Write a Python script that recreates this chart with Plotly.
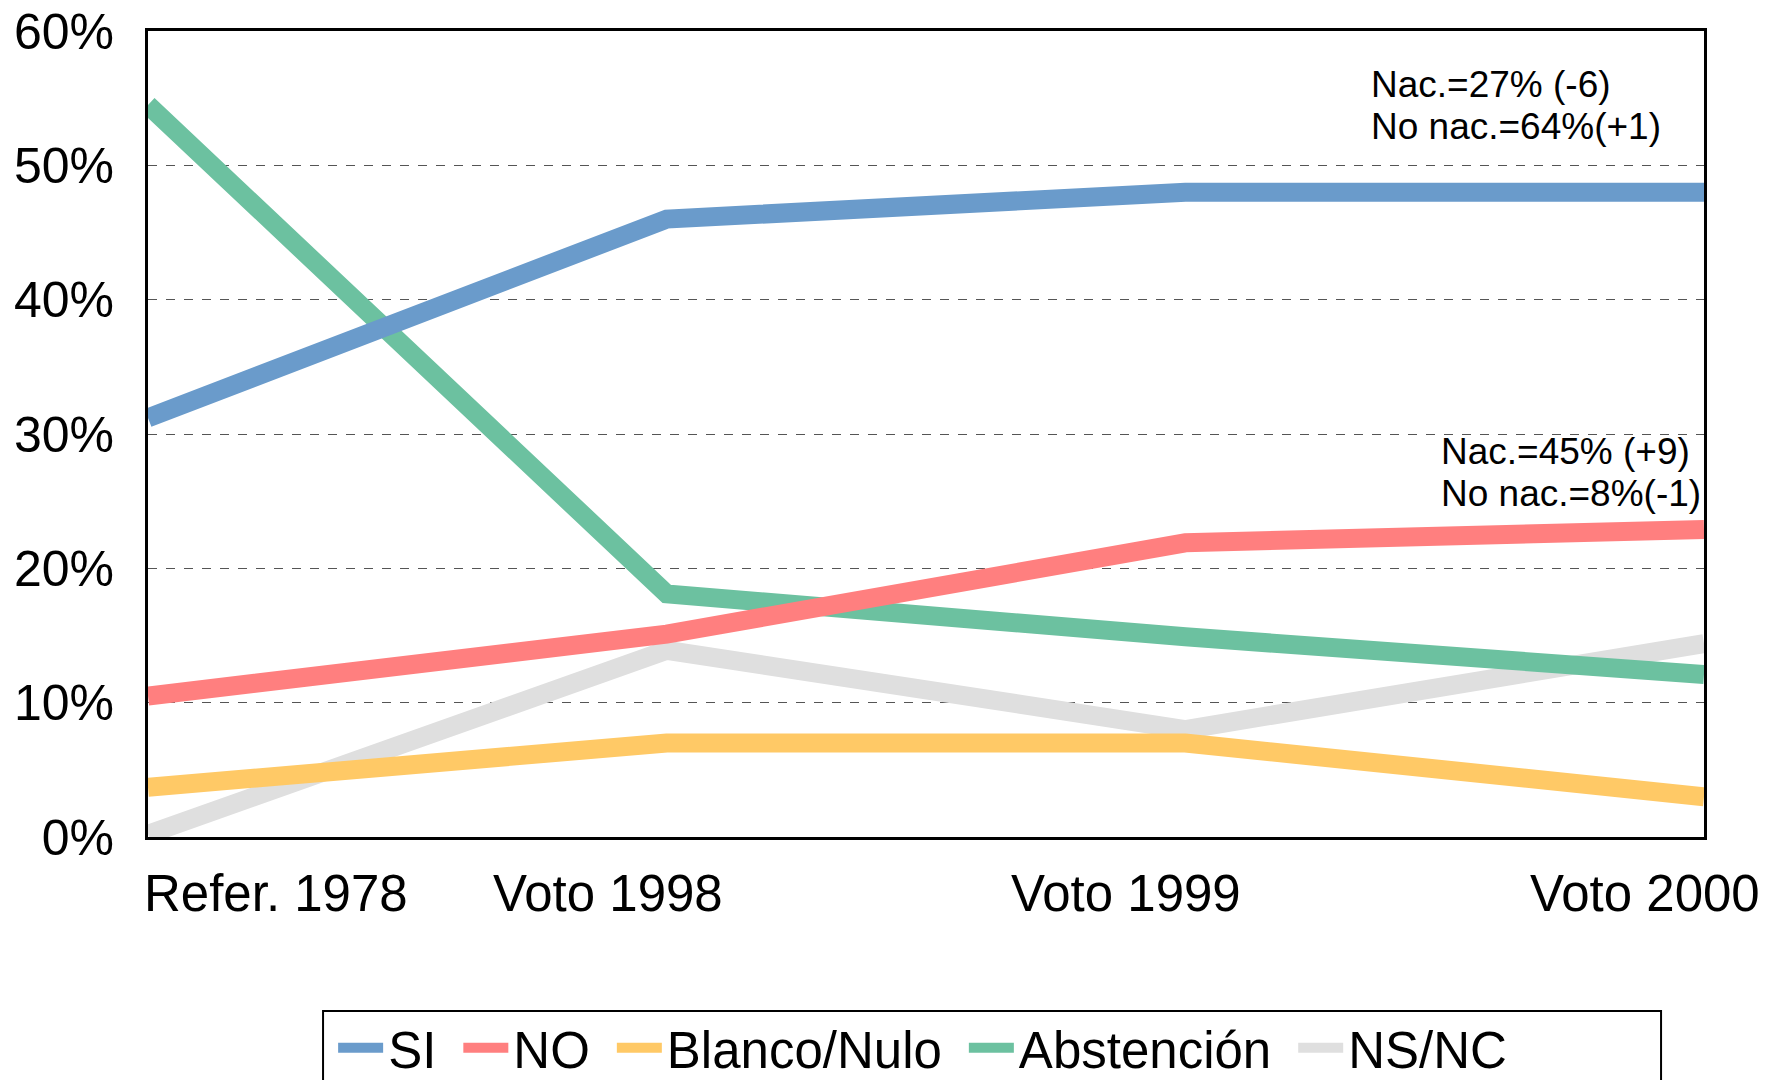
import plotly.graph_objects as go

categories = ['Refer. 1978', 'Voto 1998', 'Voto 1999', 'Voto 2000']
si = [31.2, 46.0, 48.0, 48.0]
no = [10.5, 15.1, 21.9, 22.9]
blanco = [3.7, 7.0, 7.0, 3.0]
abstencion = [54.5, 18.1, 14.9, 12.1]
nsnc = [0.2, 13.9, 8.0, 14.4]
series_names = ['SI', 'NO', 'Blanco/Nulo', 'Abstención', 'NS/NC']
note_top = ['Nac.=27% (-6)', 'No nac.=64%(+1)']
note_mid = ['Nac.=45% (+9)', 'No nac.=8%(-1)']

colors = ['#6A9BCB', '#FF7F7F', '#FFC966', '#6CC1A0', '#DFDFDF']
series = [si, no, blanco, abstencion, nsnc]
FONT = 'Arial, Liberation Sans, sans-serif'

fig = go.Figure()
# excel draws the last series underneath, so add them in reverse
for i in reversed(range(len(series))):
    fig.add_trace(go.Scatter(
        x=categories, y=series[i], name=series_names[i] + '\u2004', mode='lines',
        line=dict(color=colors[i], width=19), legendrank=i + 1,
    ))

annotations = []
for i, c in enumerate(categories):
    if i == 0:
        annotations.append(dict(x=c, y=0, xref='x', yref='paper', text=c, showarrow=False,
                                xanchor='left', yanchor='middle', xshift=-6, yshift=-56,
                                font=dict(size=51, color='black', family=FONT)))
    else:
        annotations.append(dict(x=c, y=0, xref='x', yref='paper', text=c, showarrow=False,
                                xanchor='right', yanchor='middle', xshift=58, yshift=-56,
                                font=dict(size=51, color='black', family=FONT)))

for txt, yy in zip(note_top, [0.9336, 0.8809]):
    annotations.append(dict(x=0.785, y=yy, xref='paper', yref='paper', text=txt, showarrow=False,
                            xanchor='left', yanchor='middle', font=dict(size=37, color='black', family=FONT)))
for txt, yy in zip(note_mid, [0.4777, 0.4256]):
    annotations.append(dict(x=0.830, y=yy, xref='paper', yref='paper', text=txt, showarrow=False,
                            xanchor='left', yanchor='middle', font=dict(size=37, color='black', family=FONT)))

fig.update_layout(
    width=1767, height=1080,
    margin=dict(l=140, r=71, t=23, b=251),
    plot_bgcolor='white', paper_bgcolor='white',
    font=dict(family=FONT, color='black'),
    annotations=annotations,
    showlegend=True,
    legend=dict(orientation='h', xref='container', yref='container', x=0.184, y=0.074,
                xanchor='left', yanchor='top', font=dict(size=51, family=FONT),
                itemwidth=45, bgcolor='rgba(0,0,0,0)', traceorder='normal'),
    shapes=[dict(type='rect', xref='paper', yref='paper', x0=0.1125, x1=0.9724, y0=-0.2159, y1=-0.33,
                 line=dict(color='black', width=2), fillcolor='rgba(0,0,0,0)', layer='above')],
)
fig.update_xaxes(range=[0, 3], showticklabels=False, showgrid=False, ticks='', automargin=False,
                 showline=True, linecolor='black', linewidth=3, mirror=True, zeroline=False)
fig.update_yaxes(range=[0, 60], dtick=10, ticksuffix='%', showgrid=True, gridcolor='#555555',
                 gridwidth=1, griddash='dash', showline=True, linecolor='black', linewidth=3,
                 mirror=True, zeroline=False, ticks='', ticklabelstandoff=21, automargin=False,
                 ticklabeloverflow='allow', tickfont=dict(size=50, family=FONT, color='black'))

fig.write_html('out.html')
